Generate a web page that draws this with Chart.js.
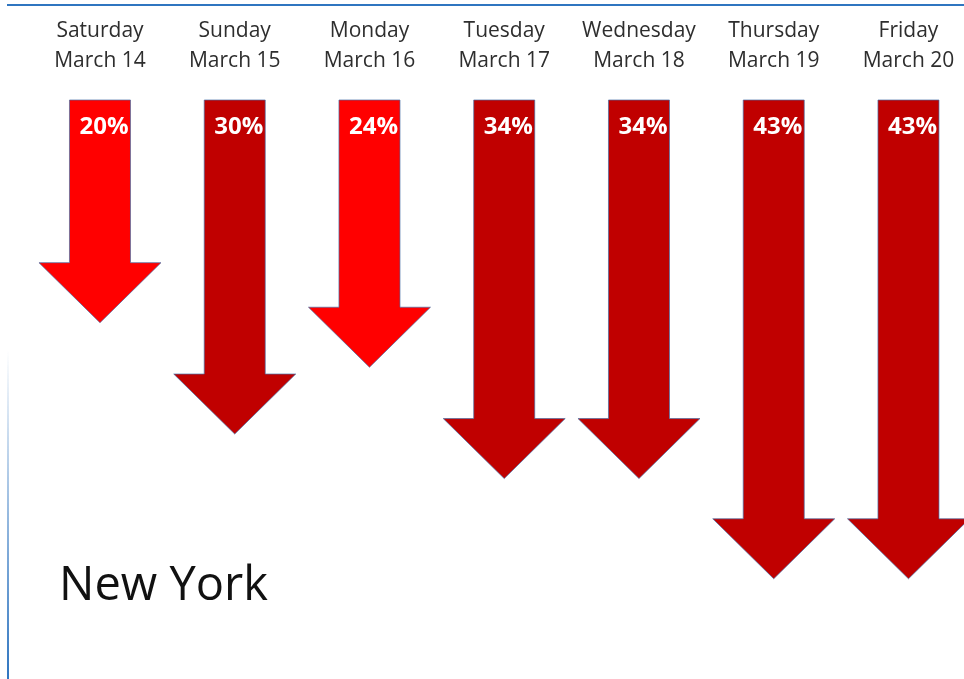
<!DOCTYPE html>
<html>
<head>
<meta charset="utf-8">
<script src="https://cdn.jsdelivr.net/npm/chart.js@4/dist/chart.umd.min.js"></script>
<style>
  html, body { margin: 0; padding: 0; background: #fff; overflow: hidden; }
  canvas { display: block; }
</style>
</head>
<body>
<canvas id="myChart" width="964" height="679"></canvas>
<script>
// data
const days = ["Saturday", "Sunday", "Monday", "Tuesday", "Wednesday", "Thursday", "Friday"];
const dates = ["March 14", "March 15", "March 16", "March 17", "March 18", "March 19", "March 20"];
const drops = [20, 30, 24, 34, 34, 43, 43];
const brightDays = [0, 2]; // drawn in the lighter red
const city = "New York";

const FONT = '"Open Sans", "DejaVu Sans", sans-serif';

// draws the bars as down arrows, plus labels
const arrowPlugin = {
  id: "arrows",
  afterDatasetsDraw(chart) {
    const ctx = chart.ctx;
    const meta = chart.getDatasetMeta(0);
    const xs = chart.scales.x;

    ctx.save();
    meta.data.forEach((bar, i) => {
      const cx = bar.x;
      const half = bar.width / 2;
      const top = bar.base;
      const tip = bar.y;
      const headLen = 60;
      const headHalf = half * 2;
      const neck = tip - headLen;

      ctx.beginPath();
      ctx.moveTo(cx - half, top);
      ctx.lineTo(cx + half, top);
      ctx.lineTo(cx + half, neck);
      ctx.lineTo(cx + headHalf, neck);
      ctx.lineTo(cx, tip);
      ctx.lineTo(cx - headHalf, neck);
      ctx.lineTo(cx - half, neck);
      ctx.closePath();
      ctx.fillStyle = brightDays.includes(i) ? "#FF0000" : "#C00000";
      ctx.fill();
      ctx.lineWidth = 1;
      ctx.strokeStyle = "rgba(70,110,165,0.7)";
      ctx.stroke();

      // percent label
      ctx.fillStyle = "#ffffff";
      ctx.font = "bold 24px " + FONT;
      ctx.textAlign = "center";
      ctx.textBaseline = "middle";
      ctx.fillText(drops[i] + "%", cx + 4, 127);
    });

    // day / date heading
    ctx.fillStyle = "#2e2e2e";
    ctx.font = "21px " + FONT;
    ctx.textAlign = "center";
    ctx.textBaseline = "middle";
    days.forEach((d, i) => {
      const x = xs.getPixelForValue(i);
      ctx.fillText(d, x, 31);
      ctx.fillText(dates[i], x, 61);
    });

    // city name
    ctx.fillStyle = "#111111";
    ctx.font = "47px " + FONT;
    ctx.textAlign = "left";
    ctx.textBaseline = "alphabetic";
    ctx.fillText(city, 59, 600);

    // slide frame lines
    ctx.fillStyle = "#2f75c0";
    ctx.fillRect(7, 4, 957, 2);
    const g = ctx.createLinearGradient(0, 350, 0, 679);
    g.addColorStop(0, "rgba(47,117,192,0)");
    g.addColorStop(1, "rgba(47,117,192,1)");
    ctx.fillStyle = g;
    ctx.fillRect(7, 350, 2, 329);
    ctx.restore();
  }
};

const data = {
  datasets: [
    {
      label: "Drop",
      data: drops.map((v, i) => ({ x: i, y: v })),
      backgroundColor: "transparent",
      borderWidth: 0,
      barThickness: 61
    }
  ]
};

const config = {
  type: "bar",
  data,
  options: {
    responsive: false,
    animation: false,
    layout: { padding: { top: 100, left: 0, right: 0, bottom: 0 } },
    plugins: {
      legend: { display: false },
      tooltip: { enabled: false }
    },
    scales: {
      x: { type: "linear", min: -0.742, max: 6.412, offset: false, display: false },
      y: { min: 0, max: 52, reverse: true, display: false }
    }
  },
  plugins: [arrowPlugin]
};

const myChart = new Chart(document.getElementById("myChart"), config);
</script>
</body>
</html>
